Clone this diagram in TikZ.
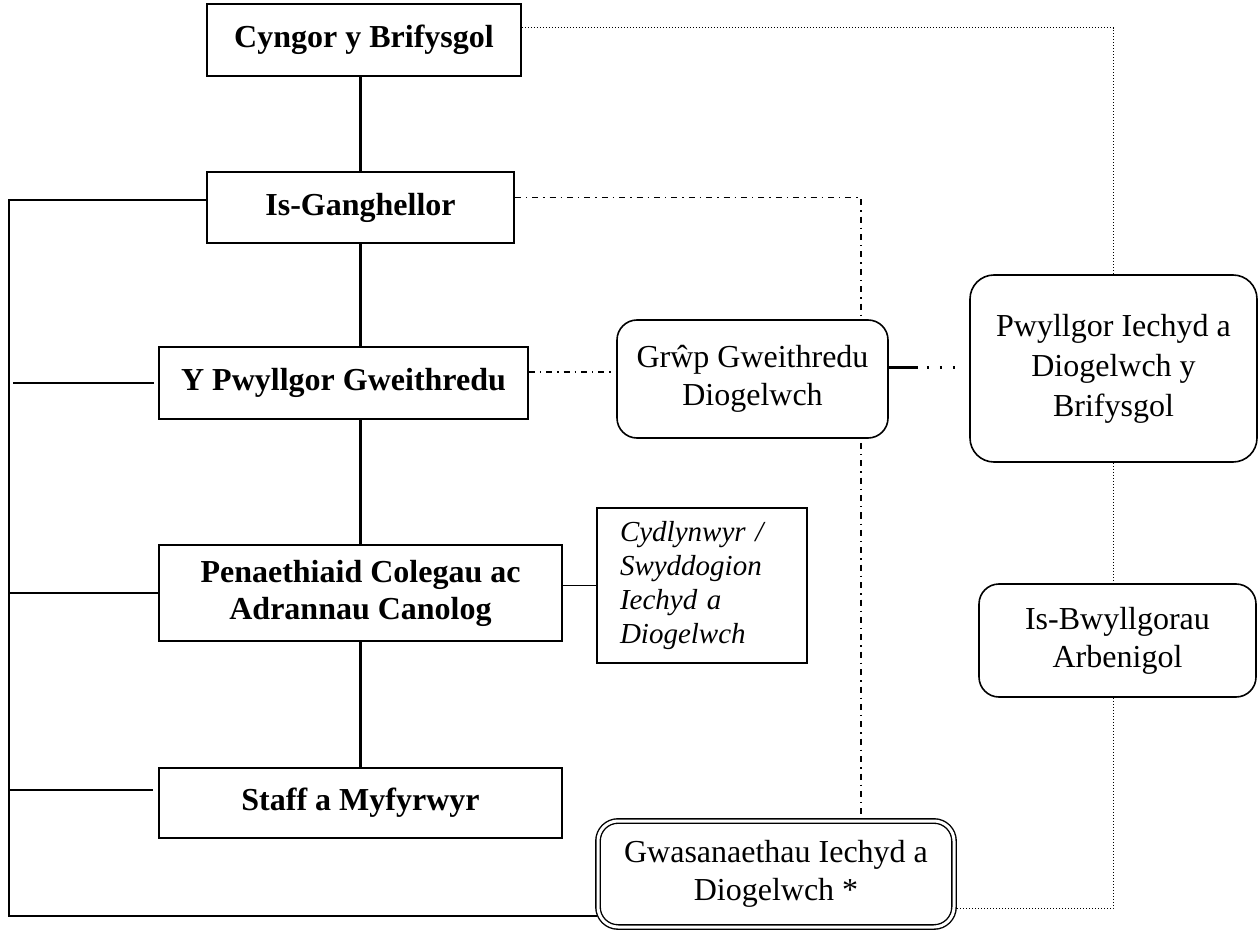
\documentclass[tikz,border=0pt]{standalone}
\usepackage{fontspec}
\setmainfont{Liberation Serif}
\usetikzlibrary{positioning, backgrounds}
\tikzset{
x=0.5pt, y=-0.5pt, % one unit is one pixel of the page, y runs down
box/.style={draw, line width=0.8pt, fill=white, align=center, inner sep=2pt, font=\fontsize{16}{18.5}\selectfont\bfseries}, % boxes of the main column
roundbox/.style={draw, line width=0.8pt, fill=white, rounded corners=10pt, align=center, inner sep=2pt, font=\fontsize{16}{19}\selectfont}, % committees and groups
mainline/.style={line width=1.3pt}, % line of command
busline/.style={line width=0.8pt}, % thin solid links
dashdot/.style={line width=0.7pt, dash pattern=on 3pt off 2.5pt on 0.7pt off 2.5pt},
dotline/.style={line width=0.5pt, densely dotted},
grwpline/.style={line width=1.5pt, dash pattern=on 14.5pt off 4.5pt on 1pt off 5.5pt on 1pt off 5.5pt on 1pt off 20pt},
}
\begin{document}
\begin{tikzpicture}
\useasboundingbox (0,0) rectangle (1258,930);

% main column
\node[box, minimum width=157pt, minimum height=36pt] (cyngor) at (364,40) {Cyngor y Brifysgol};
\node[box, minimum width=153.5pt, minimum height=35.5pt] (isgang) at (360.5,207.5) {Is-Ganghellor};
\node[box, minimum width=184.5pt, minimum height=36pt] (pwyllgor) at (343.5,383) {Y Pwyllgor Gweithredu};
\node[box, minimum width=201.5pt, minimum height=48pt] (penaeth) at (360.5,593) {Penaethiaid Colegau ac\\Adrannau Canolog};
\node[box, minimum width=201.5pt, minimum height=35pt] (staff) at (360.5,803) {Staff a Myfyrwyr};
\node[draw, line width=0.8pt, fill=white, minimum width=105pt, minimum height=77.5pt, text width=82pt, align=left, font=\fontsize{14.5}{17}\selectfont\itshape] (cydlyn) at (702,585.5) {Cydlynwyr /\\Swyddogion\\Iechyd a\\Diogelwch};

% groups and committees
\node[roundbox, minimum width=135.5pt, minimum height=59pt] (grwp) at (752.5,379) {Grŵp Gweithredu\\Diogelwch};
\node[roundbox, rounded corners=12pt, minimum width=143.5pt, minimum height=93.5pt, font=\fontsize{16}{20}\selectfont] (pwyllgoriechyd) at (1113.5,368.5) {Pwyllgor Iechyd a\\Diogelwch y\\Brifysgol};
\node[roundbox, minimum width=138.5pt, minimum height=56.5pt] (isbwyll) at (1117.5,640.5) {Is-Bwyllgorau\\Arbenigol};
\node[roundbox, double, double distance=1.5pt, line width=0.7pt, minimum width=178pt, minimum height=53pt] (gwasan) at (776,874) {Gwasanaethau Iechyd a\\Diogelwch *};

\begin{scope}[on background layer]
\draw[mainline] (cyngor.south -| isgang.north) -- (isgang.north);
\draw[mainline] (isgang.south) -- (isgang.south |- pwyllgor.north);
\draw[mainline] (penaeth.north |- pwyllgor.south) -- (penaeth.north);
\draw[mainline] (penaeth.south) -- (staff.north);

% left bus
\coordinate (bus) at (9,200);
\coordinate (gwlow) at ([yshift=-21pt]gwasan.west);
\draw[busline] ([yshift=3.75pt]isgang.west) -| (bus |- gwlow) -- (gwlow);
\draw[busline] ([xshift=2pt]bus |- pwyllgor.west) -- ([xshift=-2pt]pwyllgor.west);
\draw[busline] (bus |- penaeth.west) -- (penaeth.west);
\draw[busline] ([yshift=6.5pt]bus |- staff.west) -- ([xshift=-2.5pt,yshift=6.5pt]staff.west);
\draw[busline] (penaeth.east |- cydlyn.west) -- (cydlyn.west);

\draw[dashdot] ([yshift=5.5pt]pwyllgor.east) -- ([yshift=5.5pt]pwyllgor.east -| grwp.west);
\draw[dashdot] ([yshift=5pt]isgang.east) -| ([xshift=42.5pt]gwasan.north);
\draw[grwpline] ([yshift=5.5pt]grwp.east) -- ([yshift=5.5pt]grwp.east -| pwyllgoriechyd.west);

\draw[dotline] ([yshift=6pt]cyngor.east) -| (pwyllgoriechyd.north);
\draw[dotline] (pwyllgoriechyd.south) -- (pwyllgoriechyd.south |- isbwyll.north);
\draw[dotline] (isbwyll.south -| pwyllgoriechyd.south) |- ([yshift=-17pt]gwasan.east);
\end{scope}
\end{tikzpicture}
\end{document}
